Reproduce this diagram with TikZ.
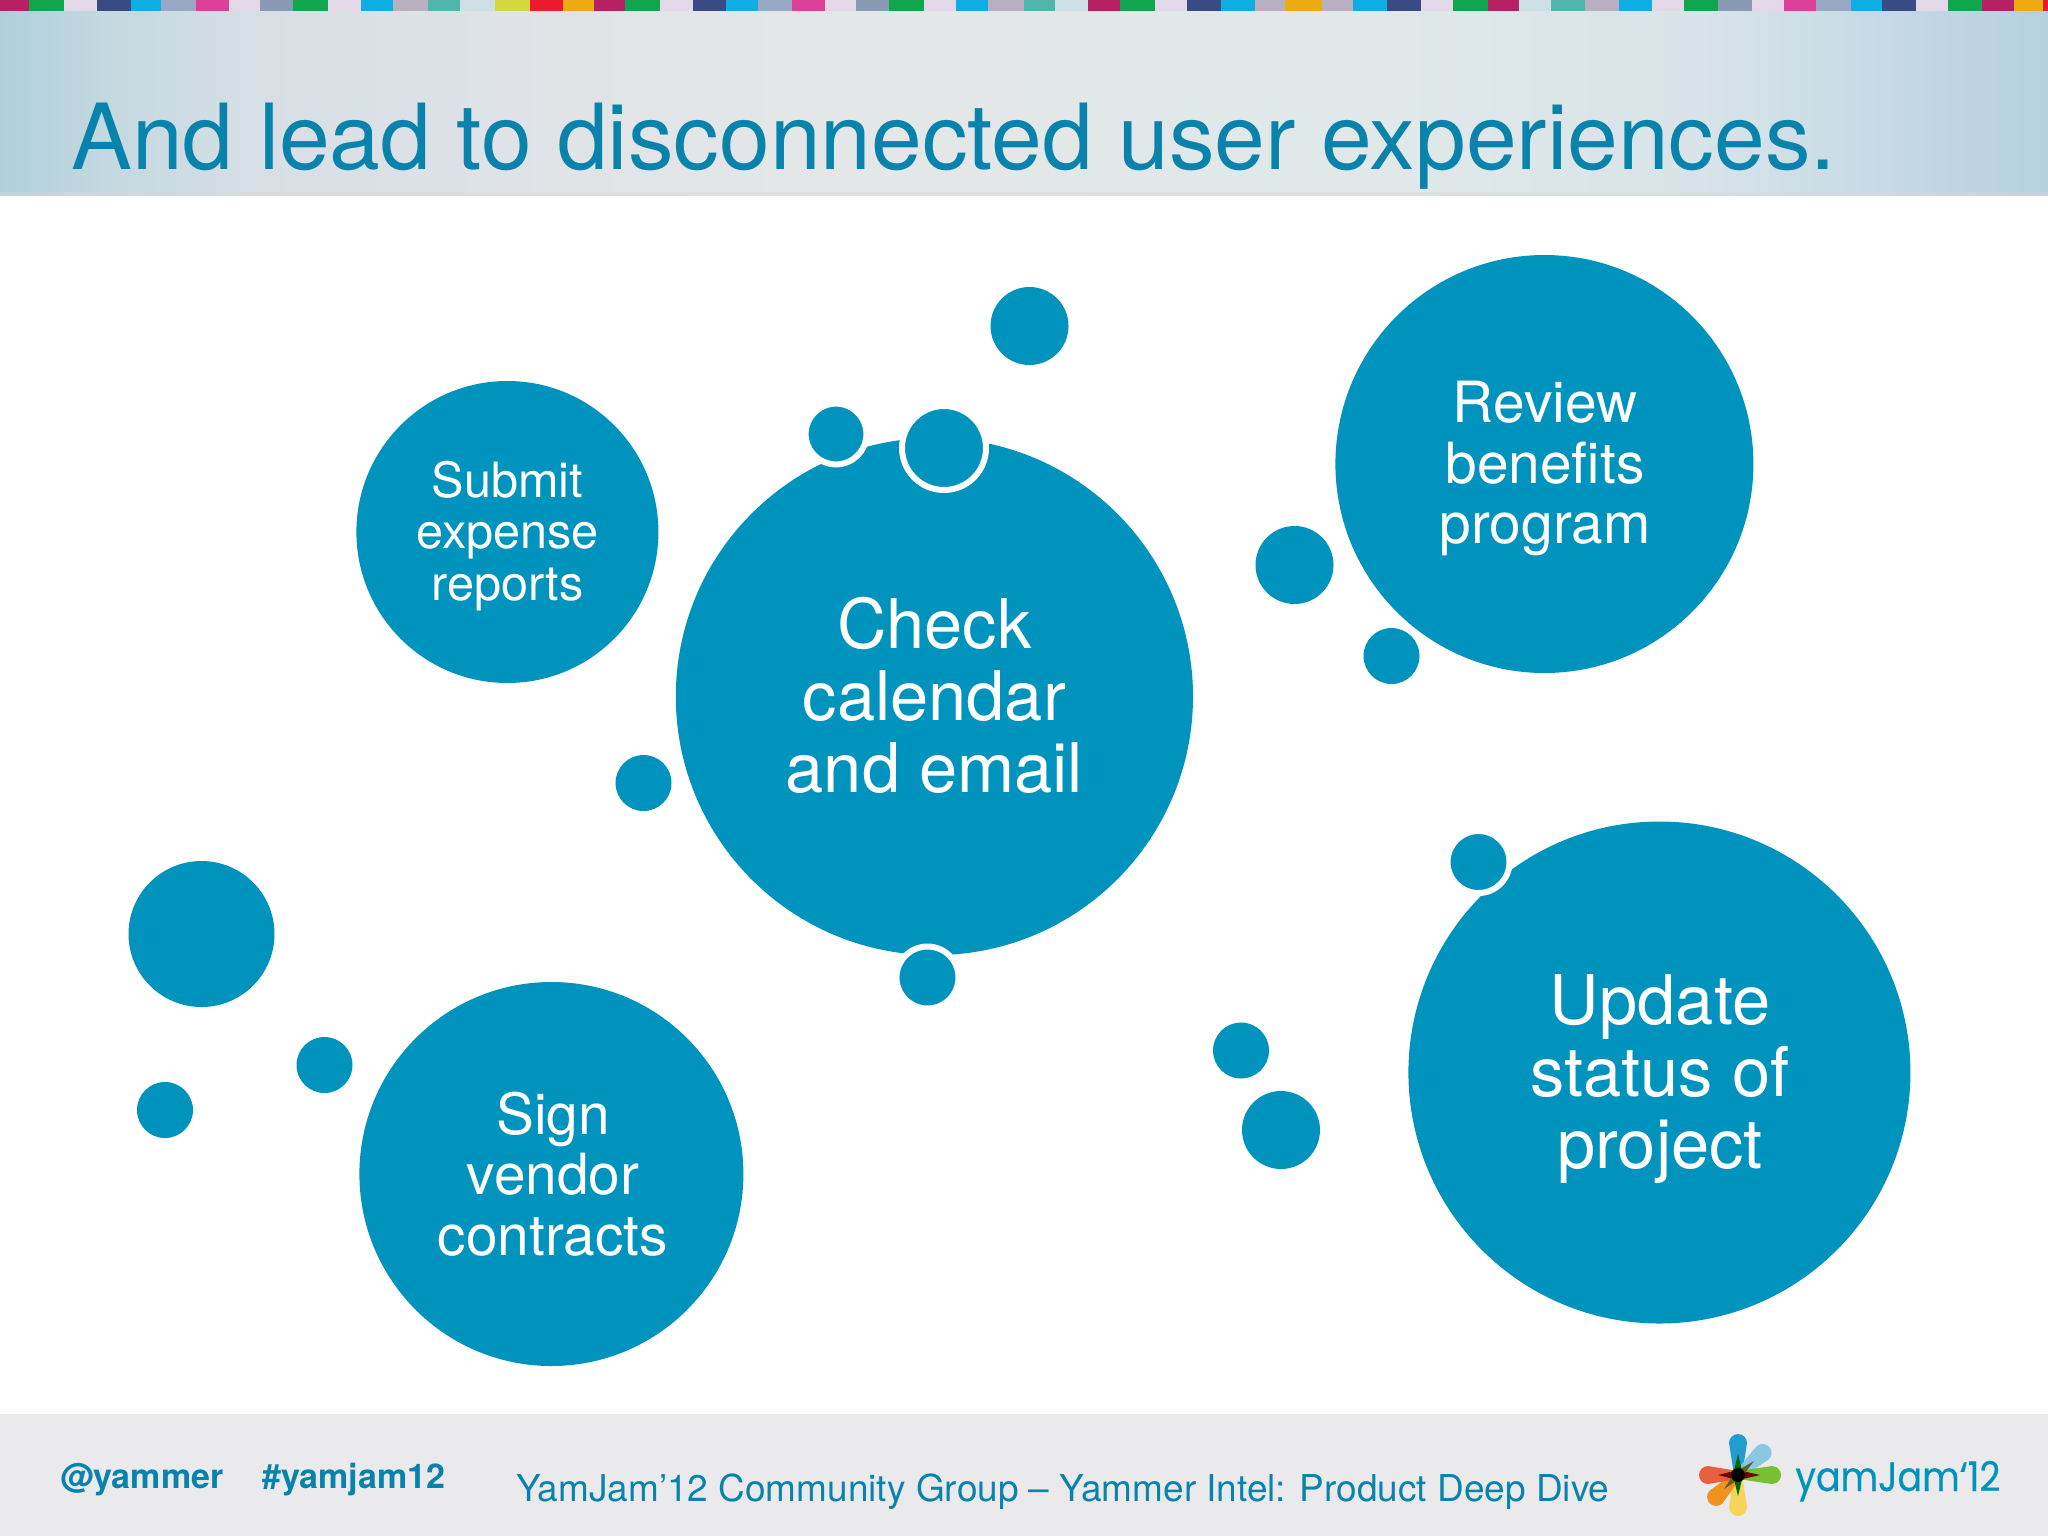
\documentclass[tikz,border=0pt]{standalone}
\usepackage{fontspec}
\setmainfont{TeX Gyre Heros}
\newfontfamily\logofont[FakeBold=.4]{Poppins}
\definecolor{bubblecol}{HTML}{0093BD}
\definecolor{titlecol}{HTML}{0A83AC}
\definecolor{footcol}{HTML}{EAEAEC}
\definecolor{sMag}{HTML}{B82066}
\definecolor{sGrn}{HTML}{10A64E}
\definecolor{sLil}{HTML}{E2D8E8}
\definecolor{sNav}{HTML}{3A4A85}
\definecolor{sCya}{HTML}{0EAEE2}
\definecolor{sGbl}{HTML}{98A8C2}
\definecolor{sPnk}{HTML}{DC4098}
\definecolor{sSla}{HTML}{8A9AB2}
\definecolor{sMau}{HTML}{B8B0C0}
\definecolor{sTea}{HTML}{50B6AC}
\definecolor{sPal}{HTML}{CEE0E4}
\definecolor{sYel}{HTML}{D4D83C}
\definecolor{sRed}{HTML}{EC1A2C}
\definecolor{sOra}{HTML}{EEAC14}
\tikzset{
  bubble/.style={circle,fill=bubblecol,inner sep=0pt,outer sep=0pt},
  rim/.style={bubble,draw=white,line width=3pt},
  bubbletext/.style={text=white,align=center,inner sep=0pt},
  bigtext/.style={bubbletext,font=\fontsize{34.3}{36}\selectfont},
  midtext/.style={bubbletext,font=\fontsize{28.4}{30.3}\selectfont},
  smalltext/.style={bubbletext,font=\fontsize{24.3}{25.8}\selectfont},
  foottext/.style={text=titlecol,inner sep=0pt,anchor=base west},
  tagtext/.style={foottext,font=\bfseries\fontsize{17}{19}\selectfont},
  petal/.style={opacity=.9}
}
\begin{document}
\begin{tikzpicture}[x=.5pt,y=-.5pt]
  \useasboundingbox (0,0) rectangle (2048,1536);
  % title band
  \foreach \xb/\cl/\cr [remember=\xb as \xa (initially 0)] in
    {100/AECFDC/C3D8E0,250/C3D8E0/D6DFE5,500/D6DFE5/DFE3E7,800/DFE3E7/E4E7E8,1400/E4E7E8/E0E8E9,1700/E0E8E9/D8E4E9,1900/D8E4E9/C5D8E4,2048/C5D8E4/B5D0E2}{
    \definecolor{cl}{HTML}{\cl}\definecolor{cr}{HTML}{\cr}
    \shade[left color=cl,right color=cr] (\xa,11) rectangle (\xb,195.5);
  }
  \fill[black!15,opacity=.5] (0,191.5) rectangle (2048,195.5);
  % colour strip
  \foreach \xb/\col [remember=\xb as \xa (initially 0)] in
    {29/sMag,64/sGrn,97/sLil,131/sNav,161/sCya,196/sGbl,229/sPnk,260/sLil,293/sSla,328/sGrn,361/sLil,393/sCya,428/sMau,460/sTea,495/sPal,530/sYel,563/sRed,594/sOra,625/sMag,660/sGrn,693/sLil,726/sNav,758/sCya,792/sGbl,825/sPnk,856/sLil,889/sSla,924/sGrn,956/sLil,988/sCya,1024/sMau,1055/sTea,1088/sPal,1120/sMag,1155/sGrn,1187/sLil,1221/sNav,1255/sCya,1285/sMau,1322/sOra,1353/sMau,1387/sCya,1421/sNav,1453/sLil,1488/sGrn,1519/sMag,1551/sPal,1585/sTea,1619/sMau,1652/sCya,1684/sLil,1718/sGrn,1752/sSla,1784/sLil,1816/sPnk,1851/sGbl,1882/sCya,1916/sNav,1948/sLil,1982/sGrn,2014/sMag,2043/sOra,2048/sRed}
    \fill[\col] (\xa,0) rectangle (\xb,11);
  \node[foottext,font=\fontsize{45.6}{50}\selectfont] (title) at (71,169.5) {And lead to disconnected user experiences.};
  % footer
  \fill[footcol] (0,1415) rectangle (2048,1536);
  \fill[black!8] (0,1414) rectangle (2048,1417);
  \node[tagtext] (handle) at (60,1488) {@yammer};
  \node[tagtext] (hashtag) at (262,1488) {\#yamjam12};
  \node[foottext,font=\fontsize{18.5}{20}\selectfont] (event) at (516,1501) {YamJam’12 Community Group – Yammer Intel: Product Deep Dive};
  % logo
  \begin{scope}[shift={(1738,1475)}]
    \foreach \ang/\len/\col in {90/32/0B97CC,42/33/7FC5E3,0/34/6DBB1F,270/32/F7D24A,225/31/F08A0A,180/30/E8502A}{
      \definecolor{pc}{HTML}{\col}
      \fill[pc,petal,rotate=\ang] (0,-4) -- (\len,-9) arc[start angle=-90,end angle=90,radius=9] -- (0,4) -- cycle;
    }
    \fill[green!40!black] (0,-21) -- (5,0) -- (0,21) -- (-5,0) -- cycle;
    \fill[red!45!black] (-20,0) -- (0,-5) -- (22,0) -- (0,5) -- cycle;
    \fill[olive!60!black] (16,-14) -- (3,3) -- (-14,14) -- (-3,-3) -- cycle;
    \fill[black] (0,0) circle (7);
  \end{scope}
  \node[foottext,text=bubblecol,xscale=.89,font=\logofont\fontsize{20.5}{22}\selectfont] (logotext) at (1795,1491) {yamJam‘12};
  % big bubbles
  \node[bubble,minimum size=258.6pt] (check) at (934.4,696.5) {};
  \node[bubble,minimum size=151pt] (submit) at (507.4,532) {};
  \node[bubble,minimum size=209pt] (review) at (1544.4,464) {};
  \node[bubble,minimum size=251pt] (update) at (1659.4,1072.5) {};
  \node[bubble,minimum size=192pt] (sign) at (551.4,1174) {};
  % their labels
  \node[bigtext] (checktext) at (934.4,695.5) {Check\\calendar\\and email};
  \node[smalltext] (submittext) at (507.4,536) {Submit\\expense\\reports};
  \node[midtext] (reviewtext) at (1545,468.5) {Review\\benefits\\program};
  \node[bigtext] (updatetext) at (1660,1079) {Update\\status of\\project};
  \node[midtext] (signtext) at (553,1174) {Sign\\vendor\\contracts};
  % small bubbles
  \foreach \px/\py/\r [count=\i] in {1029.5/326/39,643.5/783/28,1294.5/565/39,1391.5/656/28,1241/1050.5/28,1281/1130/39,201.5/934/73,324.5/1065/28,165/1110/28}
    \node[bubble,minimum size=\r pt] (dot\i) at (\px,\py) {};
  % bubbles with a white rim
  \foreach \px/\py/\r [count=\i] in {836/434/30.4,944/448/42,927.5/977.5/31,1478.5/862/31}
    \node[rim,minimum size=\r pt] (rim\i) at (\px,\py) {};
\end{tikzpicture}
\end{document}
